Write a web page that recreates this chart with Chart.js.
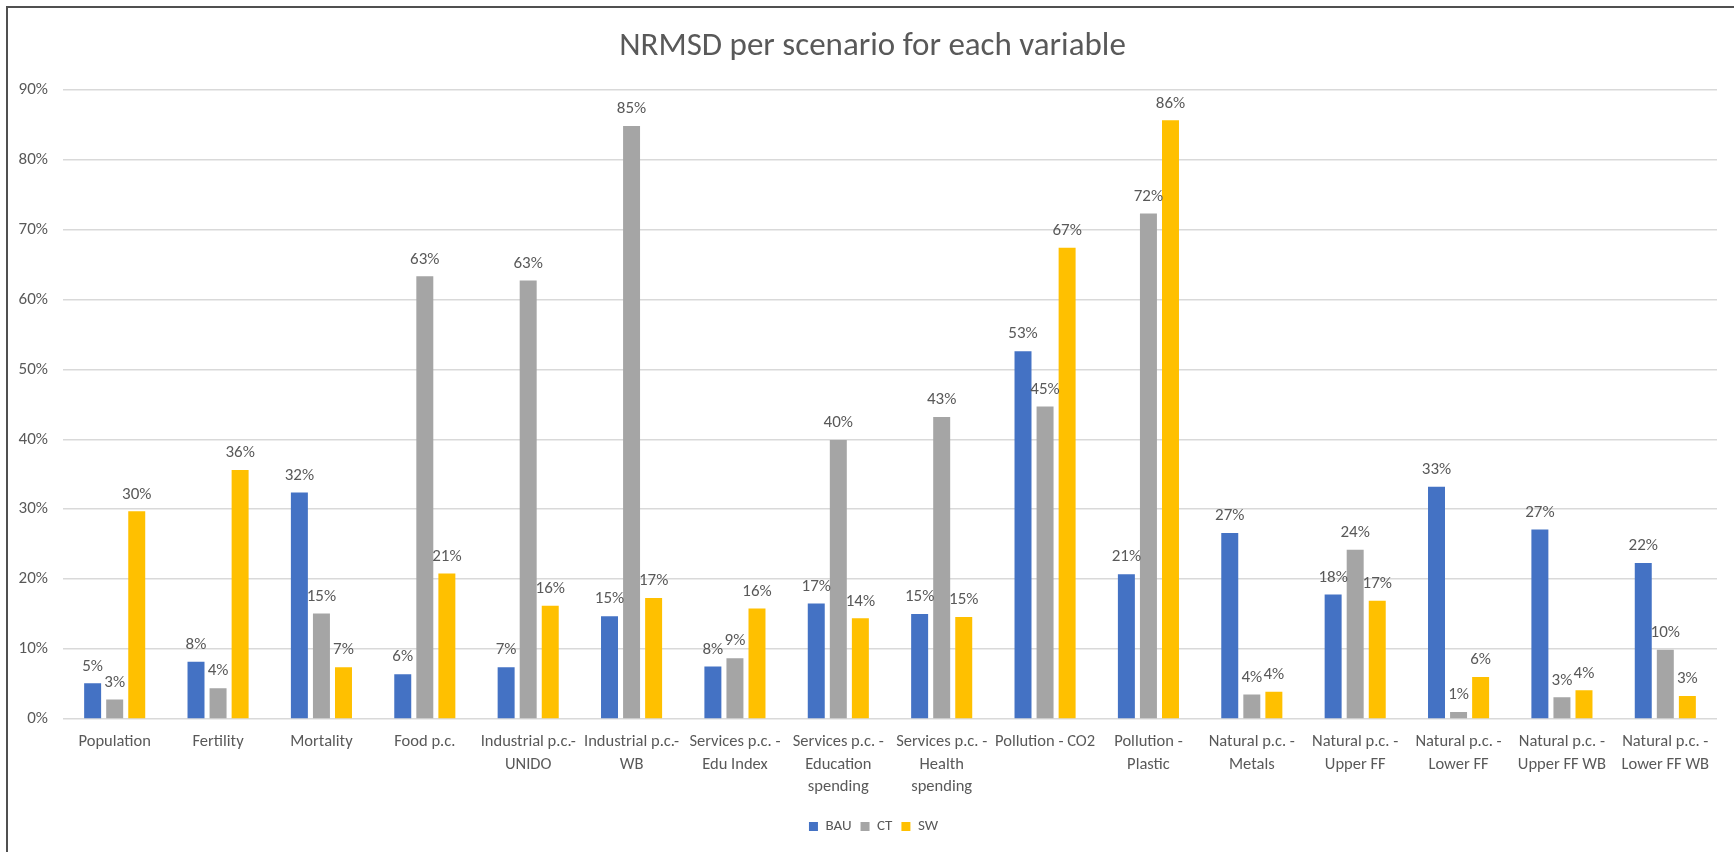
<!DOCTYPE html>
<html>
<head>
<meta charset="utf-8">
<script src="https://cdn.jsdelivr.net/npm/chart.js@4/dist/chart.umd.min.js"></script>
<style>
  html, body { margin: 0; padding: 0; background: #fff; overflow: hidden; }
  #wrap { position: relative; width: 1734px; height: 852px; }
  #frame { position: absolute; left: 6px; top: 6px; right: -20px; bottom: -20px; border: 2px solid #505050; pointer-events: none; }
</style>
</head>
<body>
<div id="wrap">
  <canvas id="chart"></canvas>
  <div id="frame"></div>
</div>
<script>
// values, in percent
const categories = [
  'Population', 'Fertility', 'Mortality', 'Food p.c.',
  ['Industrial p.c.-', 'UNIDO'], ['Industrial p.c.-', 'WB'],
  ['Services p.c. -', 'Edu Index'], ['Services p.c. -', 'Education', 'spending'],
  ['Services p.c. -', 'Health', 'spending'], 'Pollution - CO2', ['Pollution -', 'Plastic'],
  ['Natural p.c. -', 'Metals'], ['Natural p.c. -', 'Upper FF'], ['Natural p.c. -', 'Lower FF'],
  ['Natural p.c. -', 'Upper FF WB'], ['Natural p.c. -', 'Lower FF WB']
];
const bau = [5.1, 8.2, 32.4, 6.4, 7.4, 14.7, 7.5, 16.5, 15.0, 52.6, 20.7, 26.6, 17.8, 33.2, 27.1, 22.3];
const ct  = [2.8, 4.4, 15.1, 63.3, 62.7, 84.8, 8.7, 39.9, 43.2, 44.7, 72.3, 3.5, 24.2, 1.0, 3.1, 9.9];
const sw  = [29.7, 35.6, 7.4, 20.8, 16.2, 17.3, 15.8, 14.4, 14.6, 67.4, 85.6, 3.9, 16.9, 6.0, 4.1, 3.3];
const yTicks = [0, 10, 20, 30, 40, 50, 60, 70, 80, 90];

const FONT = 'Carlito, Calibri, Lato, sans-serif';
const TXT = '#595959';

// value labels above each bar
const barLabels = {
  id: 'barLabels',
  afterDatasetsDraw(chart){
    const ctx = chart.ctx;
    ctx.save();
    ctx.font = '17px ' + FONT;
    ctx.fillStyle = TXT;
    ctx.textAlign = 'center';
    ctx.textBaseline = 'middle';
    chart.data.datasets.forEach((ds, i)=>{
      chart.getDatasetMeta(i).data.forEach((bar, j)=>{
        ctx.fillText(Math.round(ds.data[j]) + '%', bar.x, bar.y - 17);
      });
    });
    ctx.restore();
  }
};

// title and legend sit a bit right of the canvas centre in the original
const nudge = {
  id: 'nudge',
  afterLayout(chart){
    chart.titleBlock.left += 14; chart.titleBlock.right += 14;
    chart.legend.left += 15; chart.legend.right += 15;
  }
};

new Chart(document.getElementById('chart'), {
  type: 'bar',
  data: {
    labels: categories,
    datasets: [
      { label: 'BAU', data: bau, backgroundColor: '#4472C4' },
      { label: 'CT', data: ct, backgroundColor: '#A5A5A5' },
      { label: 'SW', data: sw, backgroundColor: '#FFC000' }
    ]
  },
  options: {
    responsive: true,
    maintainAspectRatio: false,
    animation: false,
    categoryPercentage: 0.64,
    barPercentage: 0.77,
    layout: { padding: { left: 0, right: 17, top: 0, bottom: 8 } },
    plugins: {
      title: {
        display: true,
        text: 'NRMSD per scenario for each variable',
        color: TXT,
        font: { family: FONT, size: 33, weight: 'normal' },
        padding: { top: 27, bottom: 23 }
      },
      legend: {
        position: 'bottom',
        labels: { boxWidth: 9, boxHeight: 9, padding: 9, color: TXT, font: { family: FONT, size: 15 } }
      },
      tooltip: { enabled: false }
    },
    scales: {
      x: {
        grid: { display: false, drawTicks: false },
        border: { display: false },
        ticks: { color: TXT, padding: 12, maxRotation: 0, autoSkip: false, font: { family: FONT, size: 16.5, lineHeight: 1.35 } },
        afterFit: s => { s.height = 91; }
      },
      y: {
        min: 0,
        max: 90,
        afterBuildTicks: s => { s.ticks = yTicks.map(v => ({ value: v })); },
        grid: { color: '#D9D9D9', lineWidth: 1.5, drawTicks: false },
        border: { display: false },
        ticks: { color: TXT, padding: 15, font: { family: FONT, size: 17 }, callback: v => v + '%' },
        afterFit: s => { s.width = 63; }
      }
    }
  },
  plugins: [barLabels, nudge]
});
</script>
</body>
</html>
